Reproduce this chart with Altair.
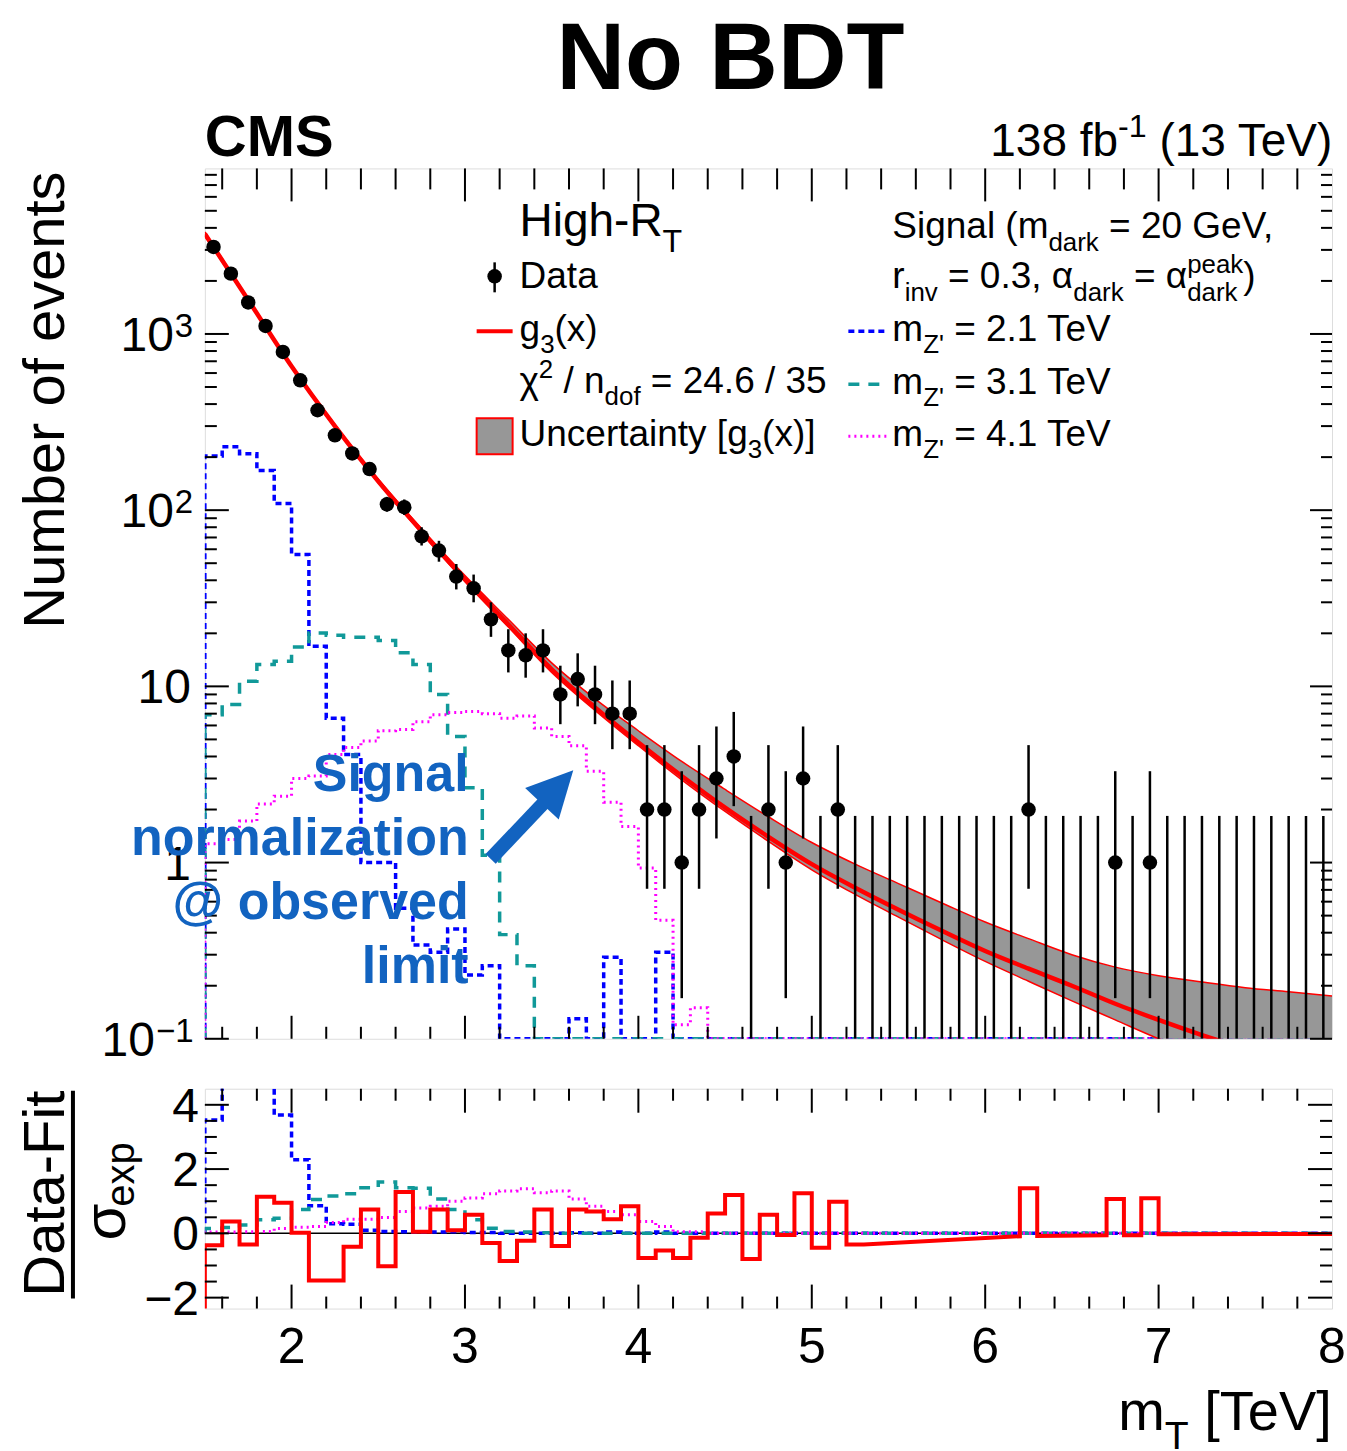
import altair as alt
import pandas as pd

FONT = "Liberation Sans"
BLUE_ANN = "#1263c0"
C_BLUE, C_TEAL, C_MAG, C_RED = "#0000ff", "#119999", "#ff00ff", "#ff0000"

# ---------------- data ----------------
bin_lo = [round(1.5 + 0.1 * i, 2) for i in range(65)]   # 0.1 TeV bins, 1.5 -> 8.0

counts = [3120, 2200, 1510, 1110, 791, 546, 369, 266, 210, 171,
          108, 104, 71, 59, 42, 36, 24, 16, 15, 16,
          9, 11, 9, 7, 7, 2, 2, 1, 2, 3,
          4, 0, 2, 1, 3, 0, 2, 0, 0, 0,
          0, 0, 0, 0, 0, 0, 0, 2, 0, 0,
          0, 0, 1, 0, 1, 0, 0, 0, 0, 0,
          0, 0, 0, 0, 0]
err_lo = [3064, 2153, 1471, 1077, 763, 523, 350, 250, 196, 158,
          98, 94, 63, 51, 35.5, 30.0, 19.1, 12.0, 11.2, 12.0,
          6.1, 7.7, 6.1, 4.4, 4.4, 0.71, 0.71, 0.17, 0.71, 1.37,
          2.09, 0, 0.71, 0.17, 1.37, 0, 0.71, 0, 0, 0,
          0, 0, 0, 0, 0, 0, 0, 0.71, 0, 0,
          0, 0, 0.17, 0, 0.17, 0, 0, 0, 0, 0,
          0, 0, 0, 0, 0]
err_hi = [3176, 2247, 1549, 1143, 819, 570, 389, 283, 225, 185,
          119, 115, 80, 67, 49.5, 43.1, 30.0, 21.1, 20.0, 21.1,
          13.1, 15.4, 13.1, 10.8, 10.8, 4.64, 4.64, 3.30, 4.64, 5.92,
          7.16, 1.84, 4.64, 3.30, 5.92, 1.84, 4.64, 1.84, 1.84, 1.84,
          1.84, 1.84, 1.84, 1.84, 1.84, 1.84, 1.84, 4.64, 1.84, 1.84,
          1.84, 1.84, 3.30, 1.84, 3.30, 1.84, 1.84, 1.84, 1.84, 1.84,
          1.84, 1.84, 1.84, 1.84, 1.84]

fit_x = [1.5, 1.75, 2.0, 2.25, 2.5, 2.75, 3.0, 3.25, 3.5, 3.75, 4.0, 4.25, 4.5, 4.75,
         5.0, 5.25, 5.5, 5.75, 6.0, 6.25, 6.5, 6.75, 7.0, 7.25, 7.5, 7.75, 8.0]
fit_c = [3700, 1560, 655, 300, 146, 76, 40.6, 22.5, 12.5, 7.6, 4.8, 3.1, 2.05, 1.40,
         0.98, 0.72, 0.54, 0.41, 0.315, 0.25, 0.20, 0.158, 0.128, 0.105, 0.088, 0.075, 0.065]
fit_lo = [3620, 1530, 645, 294, 143, 74, 39.3, 21.7, 12.0, 7.3, 4.6, 2.95, 1.95, 1.32,
          0.91, 0.66, 0.49, 0.365, 0.275, 0.212, 0.164, 0.128, 0.10, 0.08, 0.065, 0.053, 0.045]
fit_hi = [3790, 1590, 667, 307, 150, 78.5, 42.5, 24.0, 13.6, 8.5, 5.6, 3.75, 2.6, 1.82,
          1.30, 0.98, 0.76, 0.59, 0.46, 0.37, 0.30, 0.255, 0.228, 0.21, 0.195, 0.185, 0.175]

sig_21 = [203, 229, 209, 168, 109, 56, 16.9, 6.6, 4.1, 1.0,
          1.0, 0.55, 0.34, 0.31, 0.42, 0.23, 0.26, 0, 0, 0,
          0, 0.13, 0, 0.29, 0, 0, 0.31] + [0] * 38
sig_31 = [6.9, 7.9, 10.7, 13.3, 13.9, 16.7, 20.1, 19.5, 19.0, 19.0,
          18.2, 15.5, 13.3, 9.0, 5.2, 2.66, 1.1, 0.39, 0.26] + [0] * 46
sig_41 = [1.28, 1.35, 1.72, 2.15, 2.38, 3.0, 3.1, 4.1, 4.5, 4.9,
          5.6, 5.7, 6.3, 6.9, 7.1, 7.2, 7.0, 6.6, 6.8, 5.8,
          5.2, 4.6, 3.3, 2.2, 1.6, 0.93, 0.47, 0.12, 0.15] + [0] * 36

# ratio panel: (data - fit) / sigma, bins 1.5 .. 5.3, then drawn vertices
pull_vals = [-0.37, 0.37, -0.35, 1.14, 0.95, 0.02, -1.47, -1.47, -0.42, 0.74,
             -1.02, 1.29, 0.05, 0.74, 0.10, 0.58, -0.30, -0.86, -0.23, 0.74,
             -0.39, 0.74, 0.68, 0.44, 0.84, -0.77, -0.53, -0.77, -0.14, 0.62,
             1.19, -0.80, 0.58, -0.05, 1.25, -0.45, 0.98, -0.35]
pull_tail_x = [6.2, 6.2, 6.3, 6.3, 6.7, 6.7, 6.8, 6.8, 6.9, 6.9, 7.0, 7.0, 8.0]
pull_tail_y = [-0.09, 1.40, 1.40, -0.08, -0.06, 1.07, 1.07, -0.06, -0.06, 1.09, 1.09, -0.03, -0.02]

rsig_21 = [3.53, 6.0, 6.3, 5.2, 3.68, 2.29, 0.86, 0.30, 0.28, 0.10,
           0.06, 0.05, 0.04, 0.04, 0.05, 0.03, 0.03, 0, 0, 0,
           0, 0.02, 0, 0.04, 0, 0, 0.04] + [0] * 38
rsig_31 = [0.15, 0.18, 0.26, 0.42, 0.47, 0.74, 1.05, 1.16, 1.23, 1.42,
           1.60, 1.42, 1.40, 1.07, 0.74, 0.42, 0.16, 0.06, 0.04, 0.02] + [0] * 45
rsig_41 = [0.04, 0.04, 0.05, 0.06, 0.15, 0.19, 0.21, 0.34, 0.44, 0.44,
           0.49, 0.68, 0.79, 0.84, 1.00, 1.10, 1.23, 1.32, 1.39, 1.26,
           1.32, 1.07, 0.84, 0.68, 0.58, 0.37, 0.21, 0.05, 0.05] + [0] * 36

# ---------------- geometry ----------------
W, H, RH = 1128, 871, 220
YMIN, YMAX = 0.1, 8700
XS = alt.Scale(domain=[1.5, 8.0], nice=False, zero=False)
YS = alt.Scale(type="log", domain=[YMIN, YMAX], nice=False)
RS = alt.Scale(domain=[-2.34, 4.5], nice=False, zero=False)
ONE = pd.DataFrame({"a": [0]})
LS = 37  # legend font size
D_BLUE, D_TEAL, D_MAG = [6, 4], [11, 9], [2, 4]

AW = {' ': 278, '(': 333, ')': 333, ',': 278, '-': 333, '.': 278, '/': 278, '=': 584,
      '[': 278, ']': 278, "'": 191, 'χ': 520, 'α': 580, 'σ': 570, '−': 584}
for d in "0123456789":
    AW[d] = 556
AW.update({'A': 667, 'B': 667, 'C': 722, 'D': 722, 'E': 667, 'F': 611, 'G': 778, 'H': 722,
           'I': 278, 'L': 556, 'M': 833, 'N': 722, 'O': 778, 'R': 722, 'S': 667, 'T': 611,
           'U': 722, 'V': 667, 'Z': 611, 'a': 556, 'b': 556, 'c': 500, 'd': 556, 'e': 556,
           'f': 278, 'g': 556, 'h': 556, 'i': 222, 'k': 500, 'l': 222, 'm': 833, 'n': 556,
           'o': 556, 'p': 556, 'r': 333, 's': 500, 't': 278, 'u': 556, 'v': 500, 'x': 500,
           'y': 500, 'z': 500})


def tw(s, size):
    return sum(AW.get(c, 556) for c in s) / 1000.0 * size


def T(x, y, s, size, weight="normal", align="left", color="black", angle=0):
    kw = dict(text=s, fontSize=size, fontWeight=weight, align=align, baseline="alphabetic",
              color=color, font=FONT)
    if angle:
        kw["angle"] = angle
    return alt.Chart(ONE).mark_text(**kw).encode(x=alt.value(x), y=alt.value(y))


def chain(x, y, parts, size=LS):
    out = []
    for p in parts:
        if p[0] == "stack":
            fs = 0.7 * size
            out.append(T(x, y - 0.42 * size, p[1], fs))
            out.append(T(x, y + 0.33 * size, p[2], fs))
            x += max(tw(p[1], fs), tw(p[2], fs))
            continue
        kind, s = p
        fs, dy = (size, 0) if kind == "n" else ((0.7 * size, 0.33 * size) if kind == "sub" else (0.7 * size, -0.42 * size))
        if s.startswith(" "):
            x += tw(" ", fs)
            s = s.lstrip()
        out.append(T(x, y + dy, s, fs))
        x += tw(s, fs)
    return out


def step_df(vals, start, floor=None):
    xs, ys = [1.5], [start]
    for lo, v in zip(bin_lo, vals):
        xs.append(lo)
        ys.append(max(v, floor) if floor is not None else v)
    xs.append(8.0)
    ys.append(ys[-1])
    return pd.DataFrame({"x": xs, "y": ys, "o": list(range(len(xs)))})


def step_line(df, color, dash, width, yscale):
    return alt.Chart(df).mark_line(color=color, strokeDash=dash, strokeWidth=width, clip=True,
                                   interpolate="step-after").encode(
        x=alt.X("x:Q", scale=XS, axis=None), y=alt.Y("y:Q", scale=yscale, axis=None), order="o:Q")


def xticks(vals, y1, y2):
    return alt.Chart(pd.DataFrame({"v": vals})).mark_rule(color="black", strokeWidth=2).encode(
        x=alt.X("v:Q", scale=XS, axis=None), y=alt.value(y1), y2=alt.value(y2))


def yticks(vals, scale, x1, x2):
    return alt.Chart(pd.DataFrame({"v": vals})).mark_rule(color="black", strokeWidth=2).encode(
        y=alt.Y("v:Q", scale=scale, axis=None), x=alt.value(x1), x2=alt.value(x2))


def hrule(x1, x2, y, color, width, dash=None):
    kw = dict(color=color, strokeWidth=width)
    if dash:
        kw["strokeDash"] = dash
    return alt.Chart(ONE).mark_rule(**kw).encode(x=alt.value(x1), x2=alt.value(x2), y=alt.value(y))


# ---------------- main panel ----------------
pts = pd.DataFrame({"t": [round(b + 0.05, 3) for b in bin_lo], "n": counts, "lo": err_lo, "hi": err_hi})
pts["lo_c"] = pts["lo"].clip(lower=YMIN)
pts_nz = pts[pts["n"] > 0]
fit_df = pd.DataFrame({"x": fit_x, "c": fit_c, "lo": fit_lo, "hi": fit_hi})

fx = alt.X("x:Q", scale=XS, axis=None)
band = alt.Chart(fit_df).mark_area(color="#979797", opacity=1, interpolate="monotone", clip=True).encode(
    x=fx, y=alt.Y("lo:Q", scale=YS, axis=None), y2="hi:Q")
band_lo = alt.Chart(fit_df).mark_line(color=C_RED, strokeWidth=1.5, interpolate="monotone", clip=True).encode(
    x=fx, y=alt.Y("lo:Q", scale=YS, axis=None))
band_hi = alt.Chart(fit_df).mark_line(color=C_RED, strokeWidth=1.5, interpolate="monotone", clip=True).encode(
    x=fx, y=alt.Y("hi:Q", scale=YS, axis=None))
fit_line = alt.Chart(fit_df).mark_line(color=C_RED, strokeWidth=4.5, interpolate="monotone", clip=True).encode(
    x=fx, y=alt.Y("c:Q", scale=YS, axis=None))
errs = alt.Chart(pts).mark_rule(color="black", strokeWidth=2.5, clip=True).encode(
    x=alt.X("t:Q", scale=XS, axis=None), y=alt.Y("lo_c:Q", scale=YS, axis=None), y2="hi:Q")
dots = alt.Chart(pts_nz).mark_circle(color="black", size=210, opacity=1).encode(
    x=alt.X("t:Q", scale=XS, axis=None), y=alt.Y("n:Q", scale=YS, axis=None))

s21 = step_line(step_df(sig_21, YMIN, YMIN), C_BLUE, D_BLUE, 3.5, YS)
s31 = step_line(step_df(sig_31, YMIN, YMIN), C_TEAL, D_TEAL, 3.5, YS)
s41 = step_line(step_df(sig_41, YMIN, YMIN), C_MAG, D_MAG, 3, YS)

x_major = [2, 3, 4, 5, 6, 7]
x_minor = [v for v in [round(1.6 + 0.2 * i, 1) for i in range(32)] if abs(v - round(v)) > 1e-6]
y_major = [0.1, 1, 10, 100, 1000]
y_minor = [round(m * 10 ** e, 3) for e in range(-1, 4) for m in range(2, 10) if m * 10 ** e <= YMAX]

main_ticks = [
    xticks(x_major, H, H - 23), xticks(x_minor, H, H - 12),
    xticks(x_major, 0, 33), xticks(x_minor, 0, 21),
    yticks(y_major, YS, 0, 24), yticks(y_minor, YS, 0, 12),
    yticks(y_major, YS, W, W - 22), yticks(y_minor, YS, W, W - 11),
]


def ylab(v, x, s, size=48, dy=17):
    return alt.Chart(pd.DataFrame({"v": [v]})).mark_text(
        text=s, fontSize=size, align="right" if size > 40 else "left", baseline="alphabetic",
        dy=dy, font=FONT, color="black").encode(
        y=alt.Y("v:Q", scale=YS, axis=None), x=alt.value(x))


main_labels = [
    ylab(1000, -31, "10"), ylab(1000, -30, "3", 33, 3),
    ylab(100, -31, "10"), ylab(100, -30, "2", 33, 3),
    ylab(10, -14, "10"), ylab(1, -14, "1"),
    ylab(0.1, -50, "10"), ylab(0.1, -49, "−1", 33, 3),
]

# legend
legend = []
legend += chain(315, 68, [("n", "High-R"), ("sub", "T")], size=46)
legend.append(alt.Chart(ONE).mark_rule(color="black", strokeWidth=2.5).encode(
    x=alt.value(290), y=alt.value(94), y2=alt.value(124)))
legend.append(alt.Chart(ONE).mark_circle(color="black", size=210, opacity=1).encode(
    x=alt.value(290), y=alt.value(108)))
legend.append(T(315, 120, "Data", LS))
legend.append(hrule(272, 308, 163, C_RED, 4))
legend += chain(315, 173, [("n", "g"), ("sub", "3"), ("n", "(x)")])
legend += chain(315, 225, [("n", "χ"), ("sup", "2"), ("n", " / n"), ("sub", "dof"), ("n", " = 24.6 / 35")])
legend.append(alt.Chart(ONE).mark_rect(color="#979797", stroke=C_RED, strokeWidth=2).encode(
    x=alt.value(272), x2=alt.value(308), y=alt.value(250), y2=alt.value(286)))
legend += chain(315, 278, [("n", "Uncertainty [g"), ("sub", "3"), ("n", "(x)]")])
legend += chain(688, 70, [("n", "Signal (m"), ("sub", "dark"), ("n", " = 20 GeV,")])
legend += chain(688, 120, [("n", "r"), ("sub", "inv"), ("n", " = 0.3, α"), ("sub", "dark"),
                           ("n", " = α"), ("stack", "peak", "dark"), ("n", ")")])
for yy, col, dash, wd, lab in [(163, C_BLUE, D_BLUE, 3.5, "2.1"), (216, C_TEAL, D_TEAL, 3.5, "3.1"),
                               (268, C_MAG, D_MAG, 3, "4.1")]:
    legend.append(hrule(644, 683, yy, col, wd, dash))
    legend += chain(688, yy + 10, [("n", "m"), ("sub", "Z'"), ("n", f" = {lab} TeV")])

# annotation
ann = []
for i, s in enumerate(["Signal", "normalization", "@ observed", "limit"]):
    ann.append(T(264, 623 + 64 * i, s, 52, weight="bold", align="right", color=BLUE_ANN))
ann.append(alt.Chart(ONE).mark_rule(color=BLUE_ANN, strokeWidth=14).encode(
    x=alt.value(286), x2=alt.value(339), y=alt.value(691), y2=alt.value(635)))
ann.append(alt.Chart(ONE).mark_point(shape="M0,-1L1,1L-1,1Z", filled=True, size=2116, angle=43,
                                     color=BLUE_ANN, opacity=1).encode(x=alt.value(353), y=alt.value(619)))

# titles around the main panel
heads = [
    T(526, -79, "No BDT", 95, weight="bold", align="center"),
    T(0, -12, "CMS", 58, weight="bold"),
]
heads += chain(786, -12, [("n", "138 fb"), ("sup", "-1"), ("n", " (13 TeV)")], size=46)
heads.append(T(-141, 3, "Number of events", 58, align="right", angle=270))
anchor = alt.Chart(ONE).mark_rule(color="white", strokeWidth=0.01, opacity=0).encode(
    x=alt.value(-204), x2=alt.value(-203.5), y=alt.value(-167))

main = alt.layer(s21, s31, s41, band, band_lo, band_hi, fit_line, errs, dots,
                 *main_ticks, *main_labels, *legend, *ann, *heads, anchor).properties(width=W, height=H)

# ---------------- ratio panel ----------------
rx, ry = [1.5], [-3.0]
for lo, v in zip(bin_lo, pull_vals):
    rx += [lo, round(lo + 0.1, 2)]
    ry += [v, v]
rx += pull_tail_x
ry += pull_tail_y
pull_df = pd.DataFrame({"x": rx, "y": ry, "o": list(range(len(rx)))})

zero_line = alt.Chart(pd.DataFrame({"x": [1.5, 8.0], "y": [0, 0]})).mark_line(color="black", strokeWidth=1.5).encode(
    x=alt.X("x:Q", scale=XS, axis=None), y=alt.Y("y:Q", scale=RS, axis=None))
r21 = step_line(step_df(rsig_21, 0), C_BLUE, D_BLUE, 3.5, RS)
r31 = step_line(step_df(rsig_31, 0), C_TEAL, D_TEAL, 3.5, RS)
r41 = step_line(step_df(rsig_41, 0), C_MAG, D_MAG, 3, RS)
pull_line = alt.Chart(pull_df).mark_line(color=C_RED, strokeWidth=4, clip=True).encode(
    x=alt.X("x:Q", scale=XS, axis=None), y=alt.Y("y:Q", scale=RS, axis=None), order="o:Q")

r_major = [-2, 0, 2, 4]
r_minor = [-1.5, -1, -0.5, 0.5, 1, 1.5, 2.5, 3, 3.5]
ratio_ticks = [
    xticks(x_major, RH, RH - 24), xticks(x_minor, RH, RH - 12),
    xticks(x_major, 0, 24), xticks(x_minor, 0, 12),
    yticks(r_major, RS, 0, 24), yticks(r_minor, RS, 0, 12),
    yticks(r_major, RS, W, W - 24), yticks(r_minor, RS, W, W - 12),
]
rlab_y = alt.Chart(pd.DataFrame({"v": [4, 2, 0, -2], "s": ["4", "2", "0", "−2"]})).mark_text(
    fontSize=48, align="right", baseline="alphabetic", dy=17, font=FONT, color="black").encode(
    y=alt.Y("v:Q", scale=RS, axis=None), x=alt.value(-6), text="s:N")
rlab_x = alt.Chart(pd.DataFrame({"v": [2, 3, 4, 5, 6, 7, 8], "s": list("2345678")})).mark_text(
    fontSize=50, align="center", baseline="alphabetic", font=FONT, color="black").encode(
    x=alt.X("v:Q", scale=XS, axis=None), y=alt.value(274), text="s:N")

rtexts = [
    T(-141, 105, "Data-Fit", 58, align="center", angle=270),
    alt.Chart(ONE).mark_rule(color="black", strokeWidth=4).encode(
        x=alt.value(-132), y=alt.value(2), y2=alt.value(210)),
    T(-80, 152, "σ", 60, angle=270),
    T(-71, 118, "exp", 40, angle=270),
]
rtexts += chain(914, 342, [("n", "m"), ("sub", "T"), ("n", " [TeV]")], size=56)

ratio = alt.layer(zero_line, r21, r31, r41, pull_line, *ratio_ticks, rlab_y, rlab_x, *rtexts).properties(
    width=W, height=RH)

chart = alt.vconcat(main, ratio, spacing=50, bounds="flush").configure_view(
    stroke="black", strokeWidth=3).configure(font=FONT, background="white").properties(padding=0)

chart.save("out.html", embed_options={"renderer": "svg", "actions": False})
